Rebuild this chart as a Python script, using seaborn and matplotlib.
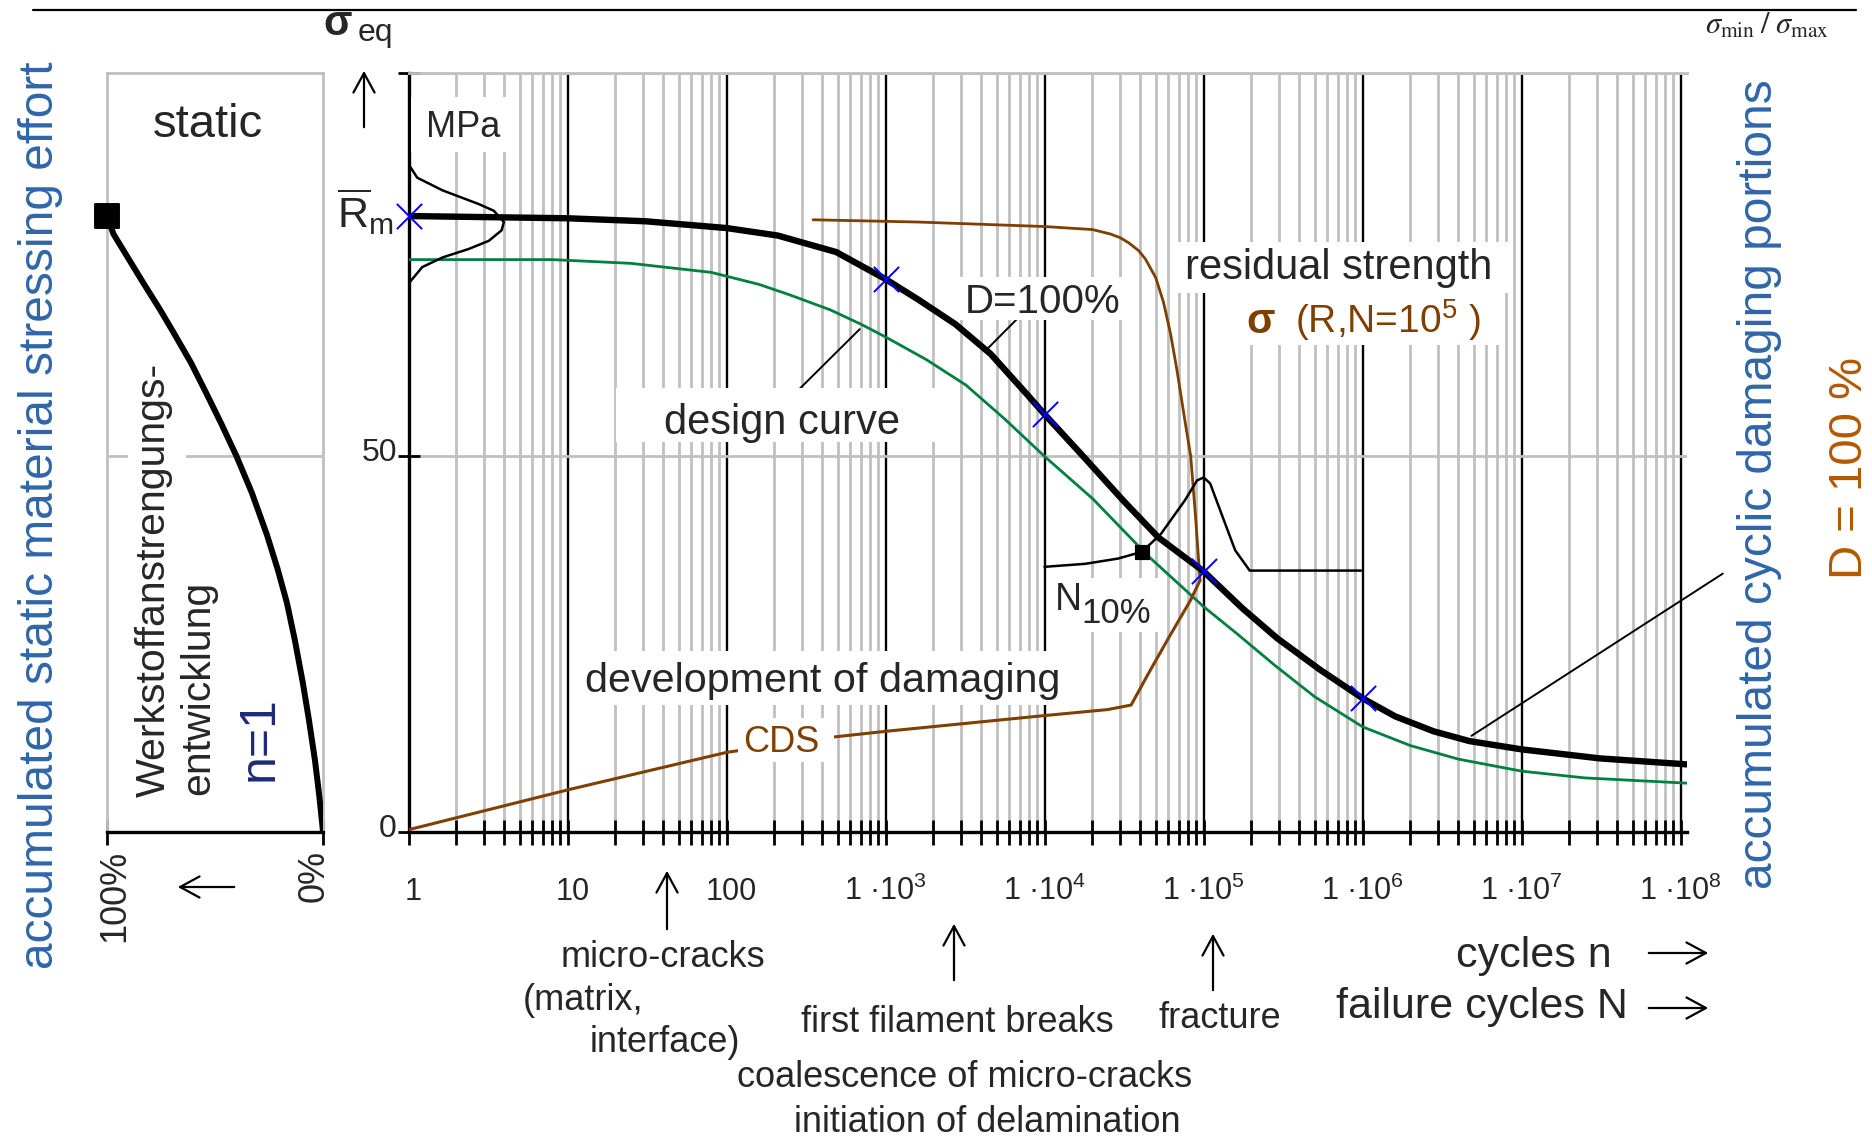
import matplotlib
matplotlib.use("Agg")
import matplotlib.pyplot as plt
import seaborn as sns
from matplotlib.patches import Rectangle, FancyArrowPatch
from matplotlib.lines import Line2D
from matplotlib.ticker import FixedLocator, NullFormatter
from matplotlib.transforms import blended_transform_factory

# ---------------- data ----------------
# left panel: static stressing effort (percent -> sigma_eq)
static_pct = [100, 97, 90, 83, 76, 69, 61, 54, 47, 40, 33, 26, 21, 16.7, 13, 9.3,
              6.5, 3.7, 1.8, 0.5, 0]
static_sigma = [82, 79.6, 76.3, 73, 69.8, 66.4, 62.4, 58.4, 54.3, 50, 45.2, 39.6,
                35.0, 30.5, 25.5, 19.8, 14.9, 9.5, 5.0, 1.5, 0]
static_marker_pct = [100]
static_marker_sigma = [82]

# D = 100 % curve (thick black)
d100_n = [1, 10, 31, 100, 210, 490, 1e3, 1.6e3, 2.75e3, 4.6e3, 7.8e3, 1e4, 1.7e4,
          3.1e4, 5.2e4, 1e5, 1.75e5, 2.9e5, 5.4e5, 1e6, 1.6e6, 2.8e6, 4.7e6, 1e7,
          3.1e7, 1.1e8]
d100_sigma = [82, 81.7, 81.3, 80.4, 79.4, 77.2, 73.6, 70.9, 67.6, 63.6, 58.2, 55.6,
              50.3, 44.2, 39.2, 34.7, 29.8, 25.8, 21.6, 17.8, 15.4, 13.4, 12.1, 11.0,
              9.8, 9.0]

# design curve (green)
design_n = [1, 8, 25, 80, 160, 250, 450, 700, 1e3, 1.8e3, 3.2e3, 5.6e3, 1e4, 2e4,
            4.5e4, 1e5, 1.6e5, 2.8e5, 5e5, 1e6, 2e6, 4e6, 1e7, 2.5e7, 1.1e8]
design_sigma = [76.2, 76.2, 75.7, 74.5, 72.9, 71.5, 69.5, 67.6, 65.9, 62.9, 59.5,
                55.0, 50.0, 44.4, 36.7, 30.0, 26.5, 22.2, 18.0, 14.0, 11.5, 9.7, 8.1,
                7.2, 6.5]

# residual strength (brown)
resid_n = [350, 1600, 1e4, 2e4, 2.6e4, 3e4, 3.4e4, 3.9e4, 4.3e4, 5e4, 5.6e4, 6.2e4,
           6.8e4, 7.6e4, 8.3e4, 8.9e4, 9.5e4]
resid_sigma = [81.5, 81.2, 80.6, 80.2, 79.6, 79.1, 78.4, 77.4, 76.3, 73.8, 70.5,
               66.3, 61.5, 55.0, 50.0, 42.0, 33.5]

# CDS - development of damaging (brown)
cds_n = [1, 10, 100, 450, 1e3, 1e4, 2.5e4, 3.5e4, 4.5e4, 5.9e4, 8.3e4, 9.5e4]
cds_sigma = [0.3, 5.6, 10.6, 12.6, 13.4, 15.5, 16.3, 16.9, 21.1, 25.5, 30.9, 33.5]

# scatter of static strength (thin black bell at R_m)
dist1_n = [1, 1.135, 1.644, 2.76, 3.44, 3.98, 3.85, 3.2, 2.38, 1.644, 1.22, 1]
dist1_sigma = [88.9, 87.1, 85.4, 83.6, 82.7, 81.2, 80.1, 78.7, 77.6, 76.5, 75.2, 73.0]

# scatter of failure cycles (thin black bell around 1e5)
dist2_n = [1e4, 1.8e4, 2.9e4, 4.1e4, 5.4e4, 7.6e4, 9.1e4, 1e5, 1.1e5, 1.32e5,
           1.58e5, 1.95e5, 9.8e5]
dist2_sigma = [35.3, 35.7, 36.4, 37.3, 39.7, 44.1, 46.8, 47.2, 46.4, 41.9,
               37.5, 34.8, 34.8]

# blue crosses on the D=100% curve
cross_n = [1, 1e3, 1e4, 1e5, 1e6]
cross_sigma = [82, 73.6, 55.6, 34.7, 17.8]

# N10% point
n10_n = [4.1e4]
n10_sigma = [37.3]

xtick_values = [1, 10, 100, 1e3, 1e4, 1e5, 1e6, 1e7, 1e8]
xtick_labels = ['1', '10', '100', '1 ·10$^{3}$', '1 ·10$^{4}$', '1 ·10$^{5}$',
                '1 ·10$^{6}$', '1 ·10$^{7}$', '1 ·10$^{8}$']
ytick_values = [0, 50]
ytick_labels = ['0', '50']
static_tick_values = [100, 0]
static_tick_labels = ['100%', '0%']

# ---------------- style ----------------
sns.set_theme(style="white")
plt.rcParams["font.family"] = ["Liberation Sans", "DejaVu Sans"]
plt.rcParams["mathtext.fontset"] = "custom"
plt.rcParams["mathtext.rm"] = "Liberation Sans"
plt.rcParams["mathtext.it"] = "Liberation Sans:italic"
plt.rcParams["mathtext.bf"] = "Liberation Sans:bold"

GRAY = "#c0c0c0"
BROWN = "#7f3f00"
GREEN = "#008040"
BLUE = "#0000ff"
LBLUE = "#2f66a8"
ORANGE = "#b35900"
NAVY = "#1c2a78"

W, H = 1872, 1138
fig = plt.figure(figsize=(W / 100, H / 100), dpi=100)
fig.patch.set_facecolor("white")


def fx(x):
    return x / W


def fy(y):
    return 1 - y / H


def ftext(x, y, s, size, ha="left", va="baseline", **kw):
    return fig.text(fx(x), fy(y), s, fontsize=size, ha=ha, va=va, **kw)


def wbox(x0, y0, x1, y1):
    fig.add_artist(Rectangle((fx(x0), fy(y1)), (x1 - x0) / W, (y1 - y0) / H,
                             transform=fig.transFigure, facecolor="white",
                             edgecolor="none", zorder=1))


def farrow(x0, y0, x1, y1):
    fig.add_artist(FancyArrowPatch((fx(x0), fy(y0)), (fx(x1), fy(y1)),
                                   transform=fig.transFigure,
                                   arrowstyle="->,head_length=0.7,head_width=0.38",
                                   mutation_scale=20, lw=1.6, color="black",
                                   zorder=3))


# ---------------- axes ----------------
ax = fig.add_axes([fx(408.5), fy(832), (1687 - 408.5) / W, (832 - 73.3) / H])
axs = fig.add_axes([fx(107), fy(832), (323 - 107) / W, (832 - 73.3) / H])

# ---- main axes ----
ax.set_xscale("log")
ax.set_xlim(1, 10 ** 8.04)
ax.set_ylim(0, 101)
major = [10 ** k for k in range(0, 9)]
minor = [m * 10 ** k for k in range(0, 8) for m in range(2, 10)]
ax.xaxis.set_major_locator(FixedLocator(major))
ax.xaxis.set_minor_locator(FixedLocator(minor))
ax.xaxis.set_major_formatter(NullFormatter())
ax.xaxis.set_minor_formatter(NullFormatter())
ax.set_yticks([0, 50, 101])
ax.set_yticklabels([])
ax.set_axisbelow(True)
ax.grid(True, which="minor", axis="x", color=GRAY, lw=2)
ax.grid(True, which="major", axis="x", color="black", lw=1.7)
ax.grid(True, which="major", axis="y", color=GRAY, lw=2)
ax.tick_params(axis="x", which="both", direction="inout", length=18, width=2.0,
               color="black", bottom=True, top=False, labelbottom=False)
ax.tick_params(axis="y", which="both", direction="inout", length=16, width=2.0,
               color="black", left=True, right=False, labelleft=False)
ax.spines["top"].set_color(GRAY)
ax.spines["top"].set_linewidth(2)
ax.spines["right"].set_visible(False)
for s in ["bottom", "left"]:
    ax.spines[s].set_color("black")
    ax.spines[s].set_linewidth(2.4)

sns.lineplot(x=design_n, y=design_sigma, ax=ax, color=GREEN, lw=2.0,
             sort=False, estimator=None, zorder=3)
sns.lineplot(x=resid_n, y=resid_sigma, ax=ax, color=BROWN, lw=2.0,
             sort=False, estimator=None, zorder=3)
sns.lineplot(x=cds_n, y=cds_sigma, ax=ax, color=BROWN, lw=2.2,
             sort=False, estimator=None, zorder=3)
sns.lineplot(x=dist1_n, y=dist1_sigma, ax=ax, color="black", lw=1.8,
             sort=False, estimator=None, zorder=3)
sns.lineplot(x=dist2_n, y=dist2_sigma, ax=ax, color="black", lw=1.8,
             sort=False, estimator=None, zorder=3)
sns.lineplot(x=d100_n, y=d100_sigma, ax=ax, color="black", lw=4.6,
             sort=False, estimator=None, zorder=4)
sns.scatterplot(x=cross_n, y=cross_sigma, ax=ax, marker="x", s=330, color=BLUE,
                linewidth=1.4, zorder=6, clip_on=False, legend=False)
sns.scatterplot(x=n10_n, y=n10_sigma, ax=ax, marker="s", s=110, color="black",
                edgecolor="black", zorder=6, legend=False)

# pointer lines
ax.annotate("", xy=(10 ** 2.85, 67.2), xytext=(10 ** 2.45, 58.8),
            arrowprops=dict(arrowstyle="-", lw=1.4, color="black"))
ax.annotate("", xy=(10 ** 3.63, 64.1), xytext=(10 ** 3.86, 69.0),
            arrowprops=dict(arrowstyle="-", lw=1.4, color="black"))
ax.annotate("", xy=(10 ** 6.67, 12.6), xytext=(10 ** 8.28, 34.6),
            arrowprops=dict(arrowstyle="-", lw=1.4, color="black"),
            annotation_clip=False)

ax.set_xlim(1, 10 ** 8.04)
ax.set_ylim(0, 101)
ax.set_xlabel("")
ax.set_ylabel("")

# x tick labels (baseline aligned)
tx = blended_transform_factory(ax.transData, fig.transFigure)
for i, (v, lab) in enumerate(zip(xtick_values, xtick_labels)):
    off = 1.07 if i < 3 else 1.0
    ax.text(v * off, fy(900), lab, transform=tx, ha="center", va="baseline",
            fontsize=22, clip_on=False)
ty = blended_transform_factory(fig.transFigure, ax.transData)
for v, lab in zip(ytick_values, ytick_labels):
    ax.text(fx(397), v + 0.4, lab, transform=ty, ha="right", va="center",
            fontsize=23, clip_on=False)

# ---- left (static) panel ----
axs.set_xlim(100, 0)
axs.set_ylim(0, 101)
axs.set_xticks(static_tick_values)
axs.set_xticklabels([])
axs.set_yticks([50])
axs.set_yticklabels([])
axs.grid(True, axis="y", color=GRAY, lw=2)
axs.grid(False, axis="x")
axs.tick_params(axis="x", direction="inout", length=18, width=2.0, color="black",
                bottom=True, labelbottom=False)
axs.tick_params(axis="y", length=0, left=False)
for s in ["left", "right", "top"]:
    axs.spines[s].set_color(GRAY)
    axs.spines[s].set_linewidth(2)
axs.spines["bottom"].set_color("black")
axs.spines["bottom"].set_linewidth(2.4)
sns.lineplot(x=static_pct, y=static_sigma, ax=axs, color="black", lw=4.3,
             sort=False, estimator=None, zorder=4)
sns.scatterplot(x=static_marker_pct, y=static_marker_sigma, ax=axs, marker="s",
                s=300, color="black", edgecolor="black", zorder=6, clip_on=False,
                legend=False)
axs.set_xlabel("")
axs.set_ylabel("")
stx = blended_transform_factory(axs.transData, fig.transFigure)
for v, lab, dx in zip(static_tick_values, static_tick_labels, [-3.5, 4.0]):
    axs.text(v + dx, fy(850), lab, transform=stx, rotation=90,
             rotation_mode="anchor", ha="right", va="center", fontsize=26,
             clip_on=False)

# ---------------- white label boxes ----------------
wbox(411, 97, 512, 152)      # MPa
wbox(616, 388, 935, 442)     # design curve
wbox(958, 277, 1122, 320)    # D=100%
wbox(1172, 242, 1512, 293)   # residual strength
wbox(1235, 293, 1500, 345)   # sigma(R,N)
wbox(1049, 578, 1160, 632)   # N10%
wbox(573, 651, 1069, 705)    # development of damaging
wbox(738, 718, 834, 762)     # CDS
wbox(128, 430, 186, 480)     # Werkstoff... gap in 50-line

# ---------------- texts ----------------
fig.add_artist(Line2D([fx(33), fx(1856)], [fy(10), fy(10)], transform=fig.transFigure,
                      color="black", lw=1.6))
ftext(323, 35, "σ", 30, fontweight="bold")
ftext(358, 41, "eq", 23)
ftext(1705, 34, r"$\sigma_{\mathrm{min}}\;/\;\sigma_{\mathrm{max}}$", 22,
      math_fontfamily="stix")
farrow(364, 130, 364, 68)

# main labels
ftext(426, 137, "MPa", 26)
ftext(394, 228, r"$\overline{\mathrm{R}}_{\mathrm{m}}$", 31, ha="right")
ftext(782, 434, "design curve", 30, ha="center")
ftext(965, 313, "D=100%", 29)
ftext(1185, 279, "residual strength", 30)
ftext(1246, 333, "σ", 30, fontweight="bold", color=BROWN)
ftext(1295, 333, "(R,N=10$^{5}$ )", 28, color=BROWN)
ftext(1055, 610, "N", 27)
ftext(1081, 623, "10%", 25)
ftext(585, 692, "development of damaging", 29.7)
ftext(743, 752, "CDS", 26, color=BROWN)

# left panel labels
ftext(208, 137, "static", 34, ha="center")
ftext(165, 797, "Werkstoffanstrengungs-", 29.5, rotation=90, rotation_mode="anchor")
ftext(209, 795, "entwicklung", 29.5, rotation=90, rotation_mode="anchor")
ftext(273, 781, "n=1", 36, rotation=90, rotation_mode="anchor", color=NAVY)
farrow(237, 887, 175, 887)

# big rotated axis titles
ftext(53, 515, "accumulated static material stressing effort", 34.5, ha="center",
      rotation=90, rotation_mode="anchor", color=LBLUE)
ftext(1772, 484, "accumulated cyclic damaging portions", 34.5, ha="center",
      rotation=90, rotation_mode="anchor", color=LBLUE)
ftext(1862, 468, "D = 100 %", 34, ha="center", rotation=90,
      rotation_mode="anchor", color=ORANGE)

# bottom annotations
farrow(667, 932, 667, 868)
farrow(954, 983, 954, 921)
farrow(1213, 993, 1213, 931)
ftext(663, 967, "micro-cracks", 26, ha="center")
ftext(523, 1010, "(matrix,", 26)
ftext(590, 1052, "interface)", 26)
ftext(957, 1032, "first filament breaks", 26, ha="center")
ftext(1220, 1028, "fracture", 26, ha="center")
ftext(965, 1087, "coalescence of micro-cracks", 26, ha="center")
ftext(987, 1132, "initiation of delamination", 26, ha="center")
ftext(1456, 967, "cycles n", 31)
ftext(1336, 1018, "failure cycles N", 31)
farrow(1646, 953, 1711, 953)
farrow(1646, 1008, 1711, 1008)

fig.savefig("out.png", dpi=100, facecolor="white")
